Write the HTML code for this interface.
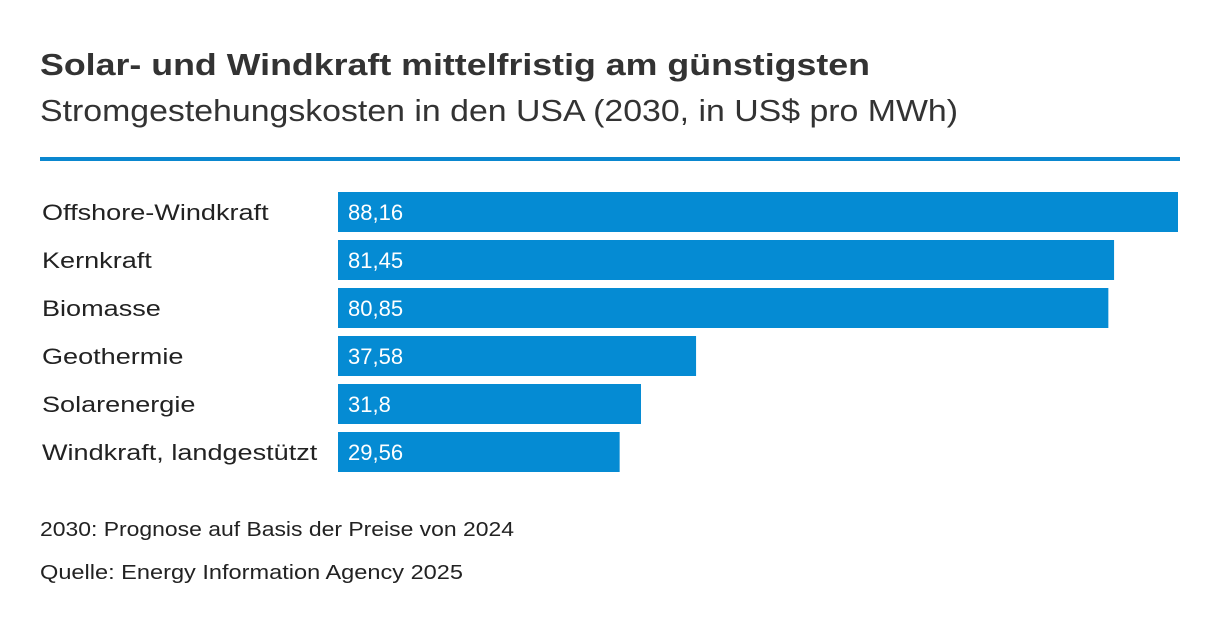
<!DOCTYPE html>
<html><head><meta charset="utf-8"><style>
html,body{margin:0;padding:0;background:#fff;}
svg{display:block;font-family:"Liberation Sans",sans-serif;}
</style></head><body>
<svg id="chart" width="1220" height="626" viewBox="0 0 1220 626">
<text x="40" y="75" font-size="31" font-weight="bold" fill="#333" textLength="830" lengthAdjust="spacingAndGlyphs">Solar- und Windkraft mittelfristig am günstigsten</text>
<text x="40" y="121" font-size="31" fill="#333" textLength="918" lengthAdjust="spacingAndGlyphs">Stromgestehungskosten in den USA (2030, in US$ pro MWh)</text>
<rect x="40" y="157" width="1140" height="4" fill="#0a87cf"/>
<g id="bars"></g>
<text x="40" y="536" font-size="20" fill="#222" textLength="474" lengthAdjust="spacingAndGlyphs">2030: Prognose auf Basis der Preise von 2024</text>
<text x="40" y="579" font-size="20" fill="#222" textLength="423" lengthAdjust="spacingAndGlyphs">Quelle: Energy Information Agency 2025</text>
</svg>
<script>
const categories = ["Offshore-Windkraft","Kernkraft","Biomasse","Geothermie","Solarenergie","Windkraft, landgestützt"];
const values = [88.16,81.45,80.85,37.58,31.8,29.56];
const valueLabels = ["88,16","81,45","80,85","37,58","31,8","29,56"];
const NS="http://www.w3.org/2000/svg";
const g=document.getElementById('bars');
const x0=338, xMaxPx=840, maxV=88.16;
function xScale(v){return v/maxV*xMaxPx;}
function yScale(i){return 192+i*48;}
categories.forEach((c,i)=>{
  const y=yScale(i);
  const lab=document.createElementNS(NS,'text');
  lab.setAttribute('x',42);lab.setAttribute('y',y+28);
  lab.setAttribute('font-size','22');lab.setAttribute('fill','#222');
  lab.textContent=c;
  
  
  g.appendChild(lab);
  const w=lab.getComputedTextLength();
  lab.setAttribute('textLength',(w*1.23).toFixed(1));
  lab.setAttribute('lengthAdjust','spacingAndGlyphs');
  const r=document.createElementNS(NS,'rect');
  r.setAttribute('x',x0);r.setAttribute('y',y);
  r.setAttribute('width',xScale(values[i]));r.setAttribute('height',40);
  r.setAttribute('fill','#058bd3');
  
  
  g.appendChild(r);
  const t=document.createElementNS(NS,'text');
  t.setAttribute('x',348);t.setAttribute('y',y+28);
  t.setAttribute('font-size','22');t.setAttribute('fill','#fff');
  t.textContent=valueLabels[i];
  
  
  g.appendChild(t);
});
</script>
</body></html>
